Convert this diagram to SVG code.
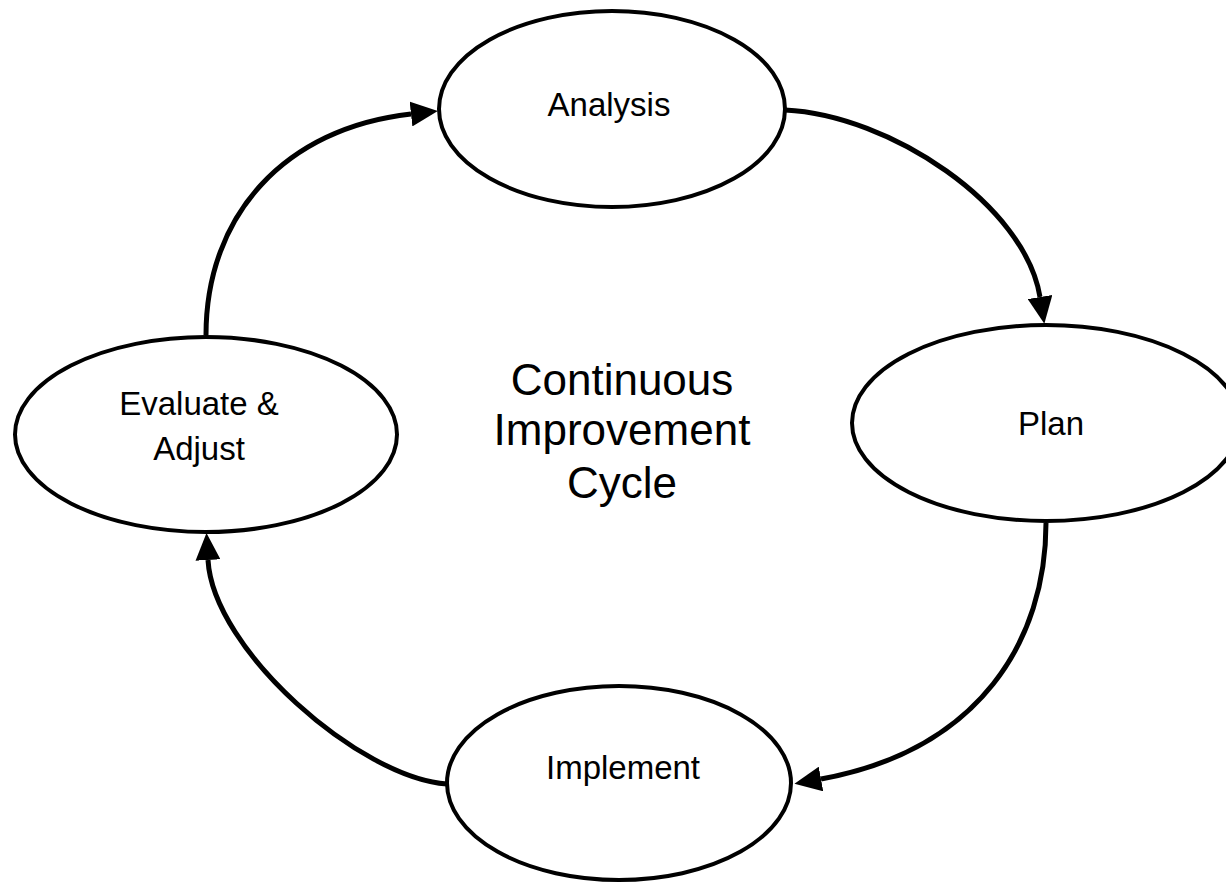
<svg xmlns="http://www.w3.org/2000/svg" width="1226" height="882" viewBox="0 0 1226 882">
  <style>
    .node { fill: #ffffff; stroke: #000000; stroke-width: 4; }
    .lbl { font-family: "Liberation Sans", Arial, sans-serif; font-size: 33px; fill: #000000; text-anchor: middle; }
    .title { font-family: "Liberation Sans", Arial, sans-serif; font-size: 44px; fill: #000000; text-anchor: middle; }
    .conn { fill: none; stroke: #000000; stroke-width: 5; marker-end: url(#arrow); }
  </style>
  <defs>
    <marker id="arrow" markerUnits="userSpaceOnUse" markerWidth="27" markerHeight="25" refX="0" refY="12.5" orient="auto" viewBox="0 0 27 25">
      <path d="M0,0 L27,12.5 L0,25 z" fill="#000000"/>
    </marker>
  </defs>
  <rect x="0" y="0" width="1226" height="882" fill="#ffffff"/>

  <g id="analysis">
    <ellipse class="node" cx="612" cy="109" rx="173" ry="98"/>
    <text class="lbl" x="609" y="116">Analysis</text>
  </g>
  <g id="plan">
    <ellipse class="node" cx="1046" cy="423" rx="194" ry="98"/>
    <text class="lbl" x="1051" y="435">Plan</text>
  </g>
  <g id="implement">
    <ellipse class="node" cx="619" cy="783" rx="172" ry="97"/>
    <text class="lbl" x="623" y="779">Implement</text>
  </g>
  <g id="evaluate">
    <ellipse class="node" cx="206" cy="434.5" rx="191" ry="97.5"/>
    <text class="lbl" x="199" y="415">Evaluate &amp;</text>
    <text class="lbl" x="199" y="460">Adjust</text>
  </g>
  <g id="center-title">
    <text class="title" x="622" y="395">Continuous</text>
    <text class="title" x="622" y="445">Improvement</text>
    <text class="title" x="622" y="498">Cycle</text>
  </g>

  <g id="connectors">
    <path class="conn" d="M206,335 C206,215 285,128 411,114"/>
    <path class="conn" d="M785,110 C890,115 1025,205 1040,297"/>
    <path class="conn" d="M1046,523 C1046,640 980,750 821,779"/>
    <path class="conn" d="M447,784 C360,778 213,650 208,560"/>
  </g>
</svg>
